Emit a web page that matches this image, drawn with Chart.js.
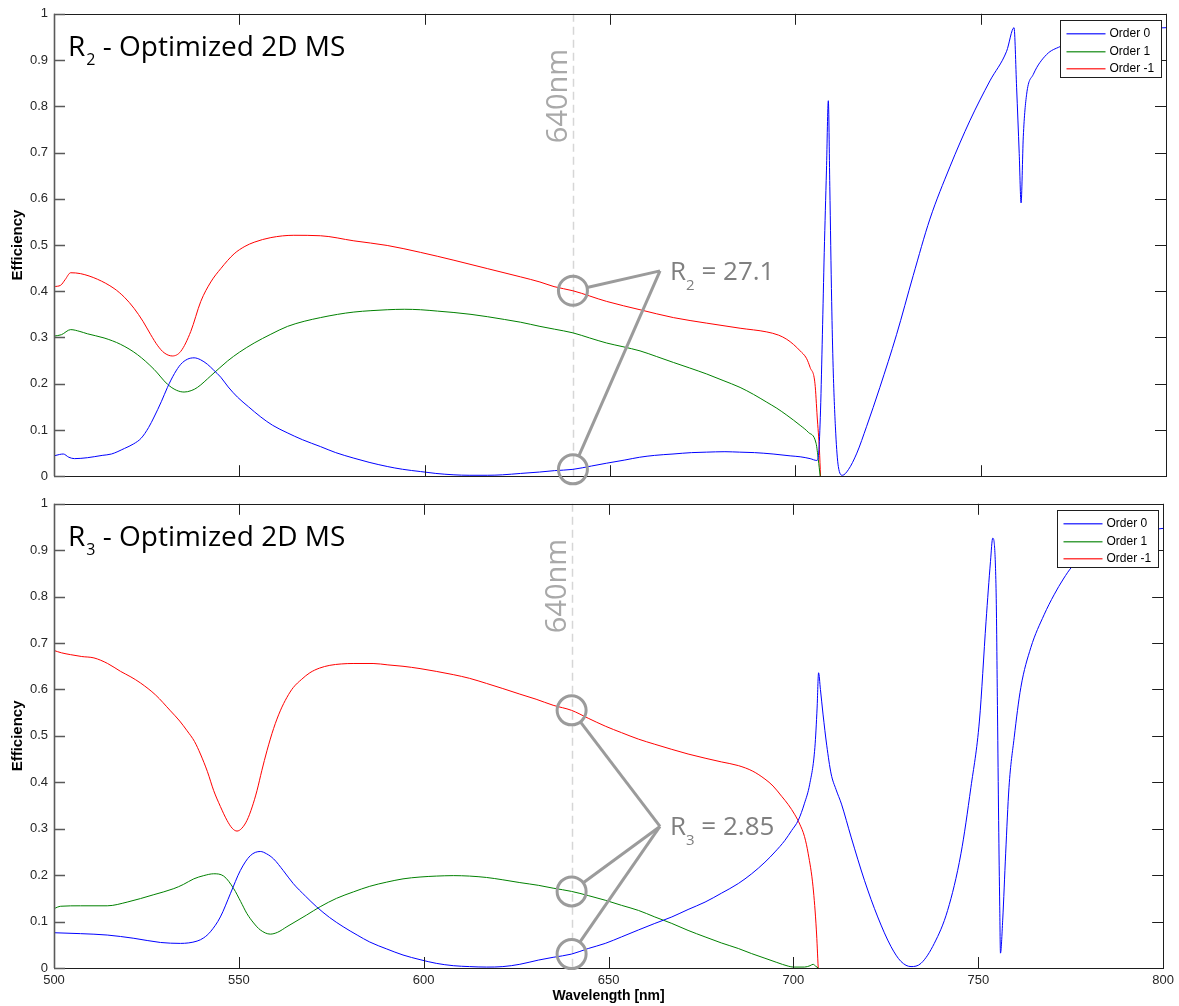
<!DOCTYPE html>
<html>
<head>
<meta charset="utf-8">
<title>Diffraction efficiency</title>
<script src="https://cdn.jsdelivr.net/npm/chart.js@4.4.1/dist/chart.umd.min.js"></script>
<style>
  html, body { margin: 0; padding: 0; background: #ffffff; }
  #wrap { position: relative; width: 1179px; height: 1006px; overflow: hidden; }
  #c1 { position: absolute; left: 0; top: 0; }
  #c2 { position: absolute; left: 0; top: 490px; }
</style>
</head>
<body>
<div id="wrap">
  <canvas id="c1" width="1179" height="490"></canvas>
  <canvas id="c2" width="1179" height="516"></canvas>
</div>
<script>
// ---------- axes ----------
const wavelengthTicks = [500, 550, 600, 650, 700, 750, 800];
const efficiencyTicks = [0, 0.1, 0.2, 0.3, 0.4, 0.5, 0.6, 0.7, 0.8, 0.9, 1];
const seriesNames = ['Order 0', 'Order 1', 'Order -1'];
const seriesColors = ['#0000ff', '#008000', '#ff0000'];

// ---------- R2 design ----------
const r2Order0Wl = [500, 501.5, 502.5, 504, 505.5, 509, 513, 515.5, 519, 521.5, 523.5, 525.5, 527, 529, 530.6, 532.5, 534.2, 536, 537.8, 539.5, 541.4, 543, 545, 547, 549.5, 552.5, 555.8, 559, 562.9, 567, 571.9, 576, 580.9, 585, 589.9, 594, 598.9, 603, 607.9, 612, 616.9, 621, 625.9, 631, 635, 640, 645, 649, 654, 658, 662, 667, 672, 676, 681, 685, 689, 694, 698.6, 701.3, 704, 705.8, 706.3, 706.8, 707.3, 707.8, 708.4, 708.9, 709.3, 709.8, 710.2, 710.9, 711.6, 712.7, 714.3, 716.6, 719.2, 722.8, 727.3, 731.8, 736.3, 741.7, 747.1, 752.5, 757, 759, 759.7, 760.4, 760.9, 761.5, 762.4, 764.2, 767.8, 771.4, 775, 780, 785, 790, 795, 800];
const r2Order0 = [0.044, 0.047, 0.048, 0.041, 0.038, 0.040, 0.045, 0.048, 0.060, 0.070, 0.082, 0.105, 0.128, 0.162, 0.192, 0.222, 0.242, 0.253, 0.256, 0.252, 0.242, 0.230, 0.214, 0.193, 0.171, 0.150, 0.128, 0.110, 0.094, 0.079, 0.064, 0.051, 0.039, 0.030, 0.021, 0.015, 0.010, 0.006, 0.003, 0.002, 0.002, 0.003, 0.006, 0.009, 0.012, 0.0148, 0.022, 0.028, 0.035, 0.041, 0.045, 0.048, 0.051, 0.052, 0.053, 0.052, 0.051, 0.048, 0.044, 0.042, 0.038, 0.034, 0.050, 0.143, 0.306, 0.484, 0.662, 0.812, 0.627, 0.378, 0.235, 0.093, 0.021, 0.002, 0.014, 0.050, 0.107, 0.192, 0.306, 0.434, 0.556, 0.669, 0.769, 0.855, 0.919, 0.970, 0.840, 0.698, 0.591, 0.734, 0.826, 0.869, 0.912, 0.929, 0.940, 0.950, 0.958, 0.964, 0.968, 0.970];

const r2Order1Wl = [500, 502, 504.5, 507, 509, 513.5, 518, 522.5, 527, 530.6, 533, 535.1, 537, 538.7, 542.3, 546.8, 550, 554, 558.5, 563, 567.5, 571.9, 576.5, 580.9, 585.5, 589.9, 594.5, 598.9, 603.5, 607.9, 612.5, 616.9, 621.5, 625.9, 631.1, 635, 640, 644.5, 649.1, 653.5, 658.1, 662.5, 667.1, 671.5, 676.1, 680.5, 685.1, 688.7, 692.3, 695, 697.7, 701.3, 703.5, 705.6, 706.2, 706.7];
const r2Order1 = [0.303, 0.306, 0.317, 0.313, 0.308, 0.299, 0.285, 0.263, 0.231, 0.199, 0.186, 0.182, 0.185, 0.192, 0.217, 0.249, 0.268, 0.288, 0.307, 0.324, 0.335, 0.343, 0.350, 0.355, 0.358, 0.360, 0.361, 0.360, 0.357, 0.354, 0.350, 0.345, 0.339, 0.333, 0.324, 0.318, 0.310, 0.299, 0.288, 0.280, 0.271, 0.259, 0.246, 0.234, 0.221, 0.207, 0.192, 0.177, 0.160, 0.147, 0.132, 0.110, 0.095, 0.071, 0.036, 0];

const r2OrderM1Wl = [500, 501.8, 503, 504.5, 507.2, 511.7, 516.2, 519, 521.6, 524, 526.1, 528, 529.7, 531.9, 534.2, 536.9, 539.6, 542.3, 545, 548.6, 551.5, 554, 558.5, 564.7, 571.9, 580.9, 589.9, 598.9, 607.9, 616.9, 625.9, 631.1, 634.9, 640, 649.1, 658.1, 667.1, 676.1, 685.1, 692.3, 695.5, 697.7, 699.5, 701.3, 703, 704, 705.3, 705.9, 706.5, 706.8];
const r2OrderM1 = [0.410, 0.413, 0.425, 0.440, 0.438, 0.426, 0.406, 0.387, 0.363, 0.335, 0.306, 0.282, 0.267, 0.260, 0.270, 0.313, 0.378, 0.420, 0.449, 0.481, 0.497, 0.506, 0.516, 0.521, 0.520, 0.509, 0.499, 0.484, 0.467, 0.449, 0.431, 0.420, 0.410, 0.401, 0.378, 0.360, 0.343, 0.331, 0.320, 0.312, 0.305, 0.296, 0.285, 0.271, 0.255, 0.235, 0.200, 0.128, 0.057, 0];

// ---------- R3 design ----------
const r3Order0Wl = [500, 507.2, 514.4, 521.6, 528.8, 534.2, 538.7, 540.5, 542.3, 545, 547.7, 550.4, 553.1, 555.8, 557.5, 559.4, 562, 564.7, 568, 571, 574.5, 578.2, 582, 585.4, 590, 594.4, 599, 603.4, 608, 612.4, 617, 621.4, 626, 631, 635, 640, 644.5, 649.1, 653.5, 658.1, 662.5, 667.1, 671.5, 676.1, 680.5, 685.1, 688.7, 692.3, 695, 697.7, 699.5, 701.3, 703, 704.4, 705.8, 706.4, 706.8, 707.3, 708, 709, 710.2, 711.5, 713, 715.6, 719.2, 722.8, 726.4, 729.1, 731.8, 734.5, 738.1, 741.7, 745.3, 748, 750.3, 752.1, 753.3, 753.9, 754.8, 755.2, 755.5, 755.8, 756, 756.6, 757.4, 758.3, 759.7, 761.5, 764.2, 767.8, 770.5, 773, 775.4, 780, 785, 790, 795, 800];
const r3Order0 = [0.076, 0.074, 0.071, 0.064, 0.055, 0.053, 0.058, 0.065, 0.078, 0.110, 0.160, 0.210, 0.242, 0.251, 0.246, 0.235, 0.210, 0.182, 0.155, 0.132, 0.109, 0.089, 0.071, 0.056, 0.041, 0.028, 0.018, 0.010, 0.005, 0.003, 0.002, 0.003, 0.008, 0.017, 0.023, 0.030, 0.042, 0.053, 0.067, 0.082, 0.096, 0.110, 0.126, 0.142, 0.161, 0.182, 0.203, 0.228, 0.250, 0.275, 0.296, 0.318, 0.355, 0.396, 0.475, 0.560, 0.636, 0.600, 0.547, 0.480, 0.418, 0.385, 0.353, 0.282, 0.189, 0.110, 0.046, 0.014, 0.003, 0.010, 0.053, 0.124, 0.246, 0.389, 0.532, 0.747, 0.876, 0.926, 0.818, 0.547, 0.318, 0.132, 0.032, 0.103, 0.246, 0.389, 0.496, 0.604, 0.690, 0.761, 0.804, 0.838, 0.865, 0.895, 0.918, 0.932, 0.942, 0.947];

const r3Order1Wl = [500, 501.8, 507.2, 514.4, 519.8, 527, 532.4, 535, 537.8, 540.5, 543.2, 545.9, 548.6, 550.5, 552.2, 554, 555.8, 558.5, 560.5, 563, 568.3, 572, 576.4, 581, 585.4, 590, 594.4, 599, 603.4, 608, 612.4, 617, 621.4, 626, 631.1, 635, 640, 644.5, 649.1, 653.5, 658.1, 662.5, 667.1, 671.5, 676.1, 680.5, 685.1, 688.7, 692.3, 695.5, 698.6, 700, 703, 704.5, 705.3, 706, 706.7];
const r3Order1 = [0.128, 0.133, 0.134, 0.134, 0.142, 0.158, 0.171, 0.180, 0.192, 0.199, 0.203, 0.198, 0.171, 0.143, 0.117, 0.097, 0.082, 0.073, 0.077, 0.089, 0.114, 0.132, 0.150, 0.164, 0.176, 0.185, 0.192, 0.196, 0.198, 0.199, 0.198, 0.195, 0.190, 0.184, 0.178, 0.172, 0.165, 0.156, 0.146, 0.135, 0.124, 0.110, 0.096, 0.081, 0.067, 0.054, 0.042, 0.031, 0.021, 0.012, 0.004, 0.002, 0.002, 0.005, 0.008, 0.004, 0];

const r3OrderM1Wl = [500, 502, 504.5, 507.5, 510.8, 514.5, 518, 520.8, 523.4, 527.5, 531.5, 534, 536, 538, 539.6, 541.5, 543.2, 545, 546.8, 548.2, 549.5, 550.8, 552.2, 553.6, 554.9, 556.2, 557.6, 559.4, 561.2, 563, 564.7, 567, 569.2, 571.8, 574.6, 577.7, 580.9, 586.3, 590.3, 594.4, 599, 603.4, 608, 612.4, 617, 621.4, 626, 630.4, 635, 640, 644.5, 649.1, 653.5, 658.1, 662.5, 667.1, 671.5, 676.1, 680.5, 685.1, 689, 692.3, 694.5, 696.8, 698.6, 700.4, 701.7, 703, 704, 705.3, 706.2, 706.7];
const r3OrderM1 = [0.684, 0.679, 0.675, 0.671, 0.668, 0.656, 0.639, 0.627, 0.614, 0.588, 0.554, 0.532, 0.511, 0.488, 0.461, 0.423, 0.382, 0.348, 0.318, 0.301, 0.295, 0.301, 0.318, 0.347, 0.382, 0.425, 0.468, 0.516, 0.554, 0.583, 0.604, 0.622, 0.636, 0.646, 0.652, 0.655, 0.656, 0.656, 0.653, 0.650, 0.645, 0.639, 0.632, 0.624, 0.613, 0.602, 0.590, 0.579, 0.566, 0.555, 0.538, 0.521, 0.507, 0.493, 0.482, 0.471, 0.461, 0.452, 0.444, 0.436, 0.424, 0.407, 0.392, 0.370, 0.352, 0.330, 0.310, 0.283, 0.246, 0.175, 0.082, 0];

// ---------- annotations ----------
const markerWavelength = 640;
const r2Label = { sub: '2', value: '27.1', apex: [663.5, 0.444], circled: ['Order -1', 'Order 0'] };
const r3Label = { sub: '3', value: '2.85', apex: [663.9, 0.305], circled: ['Order -1', 'Order 1', 'Order 0'] };

function toPoints(xs, ys) { return xs.map((x, i) => ({ x: x, y: ys[i] })); }

function buildDatasets(series) {
  return series.map((s, i) => ({
    label: seriesNames[i],
    data: toPoints(s[0], s[1]),
    borderColor: seriesColors[i],
    backgroundColor: seriesColors[i],
    borderWidth: 1,
    pointRadius: 0,
    fill: false,
    cubicInterpolationMode: 'monotone'
  }));
}

function valueAt(dataset, wl) {
  const p = dataset.data.find(d => d.x === wl);
  return p ? p.y : 0;
}

const FRAME = '#1e1e1e';
const ANNO = '#9b9b9b';
const ANNO_TEXT = '#7f7f7f';

const decor = {
  id: 'decor',
  beforeDatasetsDraw(chart, args, o) {
    const { ctx, chartArea: a, scales: { x } } = chart;
    const px = Math.round(x.getPixelForValue(markerWavelength)) + 0.5;
    ctx.save();
    ctx.strokeStyle = '#d6d6d6';
    ctx.lineWidth = 1.5;
    ctx.setLineDash([8, 5]);
    ctx.beginPath();
    ctx.moveTo(px, a.top);
    ctx.lineTo(px, a.bottom);
    ctx.stroke();
    ctx.restore();
  },
  afterDatasetsDraw(chart, args, o) {
    const { ctx, chartArea: a, scales: { x, y } } = chart;
    ctx.save();

    // frame with inward ticks on all four sides
    ctx.strokeStyle = FRAME;
    ctx.lineWidth = 1;
    ctx.strokeRect(Math.round(a.left) + 0.5, Math.round(a.top) + 0.5, Math.round(a.right - a.left), Math.round(a.bottom - a.top));
    const tl = 11;
    ctx.beginPath();
    wavelengthTicks.forEach(v => {
      const px = Math.round(x.getPixelForValue(v)) + 0.5;
      ctx.moveTo(px, a.bottom); ctx.lineTo(px, a.bottom - tl);
      ctx.moveTo(px, a.top); ctx.lineTo(px, a.top + tl);
    });
    efficiencyTicks.forEach(v => {
      const py = Math.round(y.getPixelForValue(v)) + 0.5;
      ctx.moveTo(a.right, py); ctx.lineTo(a.right - tl, py);
    });
    ctx.stroke();
    // left axis is rendered slightly heavier and greyer
    ctx.strokeStyle = '#5a5a5a';
    ctx.lineWidth = 1.6;
    ctx.beginPath();
    ctx.moveTo(Math.round(a.left) + 0.5, a.top);
    ctx.lineTo(Math.round(a.left) + 0.5, a.bottom);
    efficiencyTicks.forEach(v => {
      const py = Math.round(y.getPixelForValue(v)) + 0.5;
      ctx.moveTo(a.left, py); ctx.lineTo(a.left + tl, py);
    });
    ctx.stroke();

    // panel title
    ctx.fillStyle = '#000000';
    ctx.textBaseline = 'alphabetic';
    ctx.textAlign = 'left';
    let tx = a.left + 14;
    const ty = a.top + 42;
    ctx.font = '28px "Open Sans"';
    ctx.fillText('R', tx, ty);
    tx += ctx.measureText('R').width + 1;
    ctx.font = '16px "Open Sans"';
    ctx.fillText(o.sub, tx, ty + 9);
    tx += ctx.measureText(o.sub).width;
    ctx.font = '28px "Open Sans"';
    ctx.fillText(' - Optimized 2D MS', tx, ty);

    // wavelength marker label
    const mx = x.getPixelForValue(markerWavelength);
    ctx.save();
    ctx.translate(mx - 6, a.top + 35);
    ctx.rotate(-Math.PI / 2);
    ctx.font = '29px "Open Sans"';
    ctx.fillStyle = '#a9a9a9';
    ctx.textAlign = 'right';
    ctx.fillText(markerWavelength + 'nm', 0, 0);
    ctx.restore();

    // circled values and leader lines
    const ax = x.getPixelForValue(o.apex[0]);
    const ay = y.getPixelForValue(o.apex[1]);
    const r = 14.5;
    ctx.strokeStyle = ANNO;
    ctx.lineWidth = 3;
    o.circled.forEach(name => {
      const ds = chart.data.datasets.find(d => d.label === name);
      const cy = y.getPixelForValue(valueAt(ds, markerWavelength));
      ctx.beginPath();
      ctx.arc(mx, cy, r, 0, Math.PI * 2);
      ctx.stroke();
      const dx = ax - mx, dy = ay - cy, len = Math.hypot(dx, dy);
      ctx.beginPath();
      ctx.moveTo(mx + dx / len * r, cy + dy / len * r);
      ctx.lineTo(ax, ay);
      ctx.stroke();
    });

    // ratio label
    ctx.fillStyle = ANNO_TEXT;
    let lx = ax + 10;
    const ly = ay + 9;
    ctx.font = '26px "Open Sans"';
    ctx.fillText('R', lx, ly);
    lx += ctx.measureText('R').width;
    ctx.font = '15px "Open Sans"';
    ctx.fillText(o.sub, lx, ly + 10);
    lx += ctx.measureText(o.sub).width;
    ctx.font = '26px "Open Sans"';
    ctx.fillText(' = ' + o.value, lx, ly);

    // legend
    const bw = 101, bh = 57;
    const bx = Math.round(a.right - 5 - bw) + 0.5;
    const by = Math.round(a.top + 6) + 0.5;
    ctx.fillStyle = '#ffffff';
    ctx.fillRect(bx, by, bw, bh);
    ctx.strokeStyle = FRAME;
    ctx.lineWidth = 1;
    ctx.strokeRect(bx, by, bw, bh);
    ctx.font = '12px "Liberation Sans", Arial, sans-serif';
    ctx.textBaseline = 'middle';
    chart.data.datasets.forEach((ds, i) => {
      const ry = Math.round(by + 12.5 + i * 17.5);
      ctx.fillStyle = seriesColors[seriesNames.indexOf(ds.label)];
      ctx.globalAlpha = 0.75;
      ctx.fillRect(bx + 6, ry, 39, 1.5);
      ctx.globalAlpha = 1;
      ctx.fillStyle = '#000000';
      ctx.fillText(ds.label, bx + 49, ry + 0.5);
    });

    ctx.restore();
  }
};

function makeChart(id, datasets, opts) {
  return new Chart(document.getElementById(id), {
    type: 'line',
    data: { datasets: datasets },
    plugins: [decor],
    options: {
      responsive: false,
      animation: false,
      events: [],
      layout: { padding: { top: 12, right: 13, left: 0, bottom: 0 } },
      plugins: {
        legend: { display: false },
        tooltip: { enabled: false },
        decor: opts.decor
      },
      scales: {
        x: {
          type: 'linear',
          min: wavelengthTicks[0],
          max: wavelengthTicks[wavelengthTicks.length - 1],
          ticks: {
            display: opts.showX,
            stepSize: 50,
            padding: 5,
            color: '#262626',
            font: { family: '"Liberation Sans", Arial, sans-serif', size: 13 },
            maxRotation: 0,
            autoSkip: false
          },
          grid: { display: false, drawTicks: false },
          border: { display: false },
          title: {
            display: opts.showX,
            text: 'Wavelength [nm]',
            color: '#000000',
            font: { family: '"Liberation Sans", Arial, sans-serif', size: 14, weight: 'bold' },
            padding: { top: 0, bottom: 1 }
          },
          afterFit(s) { s.height = opts.xHeight; }
        },
        y: {
          type: 'linear',
          min: efficiencyTicks[0],
          max: efficiencyTicks[efficiencyTicks.length - 1],
          ticks: {
            stepSize: 0.1,
            padding: 6,
            color: '#262626',
            font: { family: '"Liberation Sans", Arial, sans-serif', size: 13 },
            callback: v => String(Math.round(v * 10) / 10)
          },
          grid: { display: false, drawTicks: false },
          border: { display: false },
          title: {
            display: true,
            text: 'Efficiency',
            color: '#000000',
            font: { family: '"Liberation Sans", Arial, sans-serif', size: 15, weight: 'bold' },
            padding: { top: 9, bottom: 0 }
          },
          afterFit(s) { s.width = 54; }
        }
      }
    }
  });
}

makeChart('c1', buildDatasets([[r2Order0Wl, r2Order0], [r2Order1Wl, r2Order1], [r2OrderM1Wl, r2OrderM1]]), {
  showX: false, xHeight: 10, decor: r2Label
});
makeChart('c2', buildDatasets([[r3Order0Wl, r3Order0], [r3Order1Wl, r3Order1], [r3OrderM1Wl, r3OrderM1]]), {
  showX: true, xHeight: 38, decor: r3Label
});
</script>
</body>
</html>
